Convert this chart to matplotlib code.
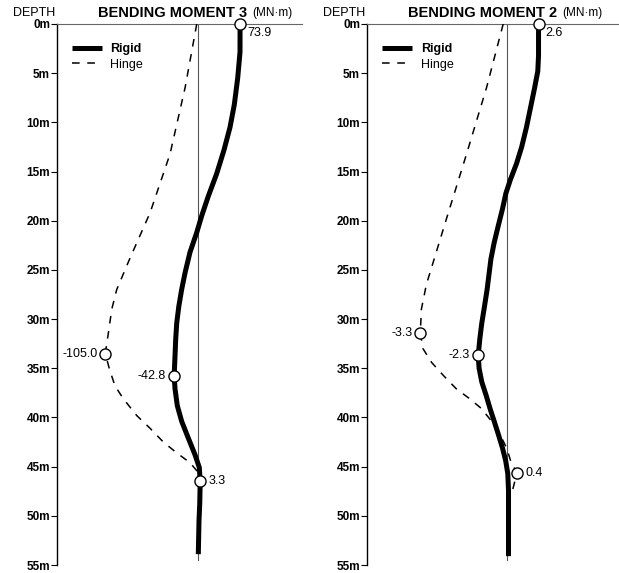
import matplotlib.pyplot as plt

plt.rcParams['font.family'] = ['Liberation Sans', 'DejaVu Sans']

# depth (m) and bending moment (MN·m)
# panel 1 - bending moment 3
bm3_rigid_depth = [0, 2.85, 5.5, 8.2, 10.5, 12.8, 15.2, 17.5, 19.5, 21.2, 23.2, 25.3, 27.0, 28.7, 30.4,
                   32.0, 33.7, 35.8, 37.1, 38.8, 40.4, 42.1, 43.8, 45.1, 46.5, 47.5, 48.8, 50.5, 53.9]
bm3_rigid = [73.9, 73.8, 69.7, 63.7, 56.1, 45.5, 32.6, 17.7, 6.0, -2.8, -14.7, -23.5, -29.5, -34.5, -38.2,
             -40.0, -41.2, -42.8, -41.2, -37.2, -29.4, -17.7, -5.8, 1.8, 3.3, 3.0, 2.5, 1.2, 0.0]
bm3_hinge_depth = [0, 6.5, 13.2, 19.2, 23.8, 27.0, 29.0, 31.4, 33.5, 35.1, 36.8, 38.1, 39.8, 41.1,
                   42.5, 43.6, 44.6, 45.6]
bm3_hinge = [-1.8, -15.0, -31.9, -54.5, -77.1, -92.1, -97.7, -101.5, -105.0, -100.3, -94.0, -84.6,
             -69.6, -54.5, -39.5, -24.4, -9.4, 0.0]

# panel 2 - bending moment 2
bm2_rigid_depth = [0, 1.3, 3.2, 4.8, 6.5, 8.5, 10.5, 12.5, 14.2, 15.8, 17.2, 18.8, 20.5, 22.2, 23.9,
                   26.0, 27.0, 28.7, 30.4, 32.0, 33.7, 35.0, 36.4, 37.7, 39.1, 40.4, 41.7, 43.1, 44.4,
                   45.7, 47.4, 50.4, 54.1]
bm2_rigid = [2.6, 2.6, 2.6, 2.54, 2.28, 1.95, 1.62, 1.23, 0.81, 0.32, -0.05, -0.33, -0.67, -1.0, -1.27,
             -1.48, -1.58, -1.79, -2.01, -2.17, -2.3, -2.23, -2.01, -1.67, -1.34, -1.0, -0.67, -0.33, -0.07,
             0.1, 0.16, 0.16, 0.16]
bm2_hinge_depth = [0, 6.5, 13.2, 19.8, 26.5, 29.0, 31.4, 33.0, 34.4, 35.7, 37.1, 38.1, 39.1, 40.4,
                   41.7, 43.1, 44.7, 45.6, 47.8]
bm2_hinge = [-0.13, -0.77, -1.53, -2.30, -3.07, -3.26, -3.3, -3.2, -2.87, -2.43, -1.92, -1.41, -0.96,
             -0.57, -0.26, 0.0, 0.19, 0.4, 0.19]

# labelled extreme points: (series, moment, depth, text, side)
bm3_points = [('rigid', 73.9, 0.0, '73.9', 'below'),
              ('hinge', -105.0, 33.5, '-105.0', 'left'),
              ('rigid', -42.8, 35.8, '-42.8', 'left'),
              ('rigid', 3.3, 46.5, '3.3', 'right')]
bm2_points = [('rigid', 2.6, 0.0, '2.6', 'below'),
              ('hinge', -3.3, 31.4, '-3.3', 'left'),
              ('rigid', -2.3, 33.7, '-2.3', 'left'),
              ('hinge', 0.4, 45.6, '0.4', 'right')]

depth_ticks = list(range(0, 60, 5))
depth_labels = [f'{d}m' for d in depth_ticks]

W, H = 619, 573
fig = plt.figure(figsize=(W / 100, H / 100), dpi=100)


def panel(left_px, right_px, rigid_lim, hinge_lim, r_depth, r_vals, h_depth, h_vals, points, title):
    top_px, bot_px = 24, 565
    ax = fig.add_axes([left_px / W, 1 - bot_px / H, (right_px - left_px) / W, (bot_px - top_px) / H])
    ax.set_ylim(55, 0)
    ax.set_xlim(*rigid_lim)
    ax2 = ax.twiny()
    ax2.set_xlim(*hinge_lim)
    ax2.set_ylim(55, 0)
    for a in (ax, ax2):
        for s in ('right', 'bottom'):
            a.spines[s].set_visible(False)
        a.set_xticks([])
    ax2.spines['left'].set_visible(False)
    ax2.spines['top'].set_visible(False)
    ax.spines['top'].set_color('#666666')
    ax.spines['top'].set_linewidth(0.8)
    ax.spines['left'].set_linewidth(1.0)
    ax.set_yticks(depth_ticks)
    ax.set_yticklabels(depth_labels, fontsize=8.5, fontweight='bold')
    ax.tick_params(axis='y', length=4, width=0.8, pad=1)

    ax.plot([0, 0], [0, 54.5], color='#555555', lw=0.8)
    l1, = ax.plot(r_vals, r_depth, color='black', lw=3.6, solid_capstyle='butt',
                  solid_joinstyle='round', label='Rigid')
    l2, = ax2.plot(h_vals, h_depth, color='black', lw=1.1, dashes=(5, 5), label='Hinge')

    for series, val, dep, txt, side in points:
        a = ax if series == 'rigid' else ax2
        a.plot(val, dep, 'o', ms=8, mfc='white', mec='black', mew=1.0, clip_on=False, zorder=5)
        if side == 'below':
            off, ha = (7, -9), 'left'
        elif side == 'left':
            off, ha = (-8, 0), 'right'
        else:
            off, ha = (8, 0), 'left'
        a.annotate(txt, (val, dep), xytext=off, textcoords='offset pixels',
                   ha=ha, va='center', fontsize=9)

    leg = ax.legend(handles=[l1, l2], loc='upper left', bbox_to_anchor=(0.06, 0.965),
                    frameon=False, fontsize=9, handlelength=2.4, handletextpad=0.7,
                    labelspacing=0.3, borderpad=0, borderaxespad=0)
    leg.get_texts()[0].set_fontweight('bold')

    fig.text((left_px - 44) / W, 1 - 13 / H, 'DEPTH', fontsize=9, va='center')
    t = fig.text((left_px + 41) / W, 1 - 13 / H, title, fontsize=10.5, fontweight='bold', va='center')
    fig.canvas.draw()
    bb = t.get_window_extent()
    fig.text((bb.x1 + 5) / W, 1 - 13 / H, '(MN·m)', fontsize=8.5, va='center')


panel(57, 302, (-250.1, 183.5), (-159.5, 117.0),
      bm3_rigid_depth, bm3_rigid, bm3_hinge_depth, bm3_hinge, bm3_points, 'BENDING MOMENT 3')
panel(367, 619, (-11.34, 9.14), (-5.34, 4.30),
      bm2_rigid_depth, bm2_rigid, bm2_hinge_depth, bm2_hinge, bm2_points, 'BENDING MOMENT 2')

fig.savefig('out.png', dpi=100)
